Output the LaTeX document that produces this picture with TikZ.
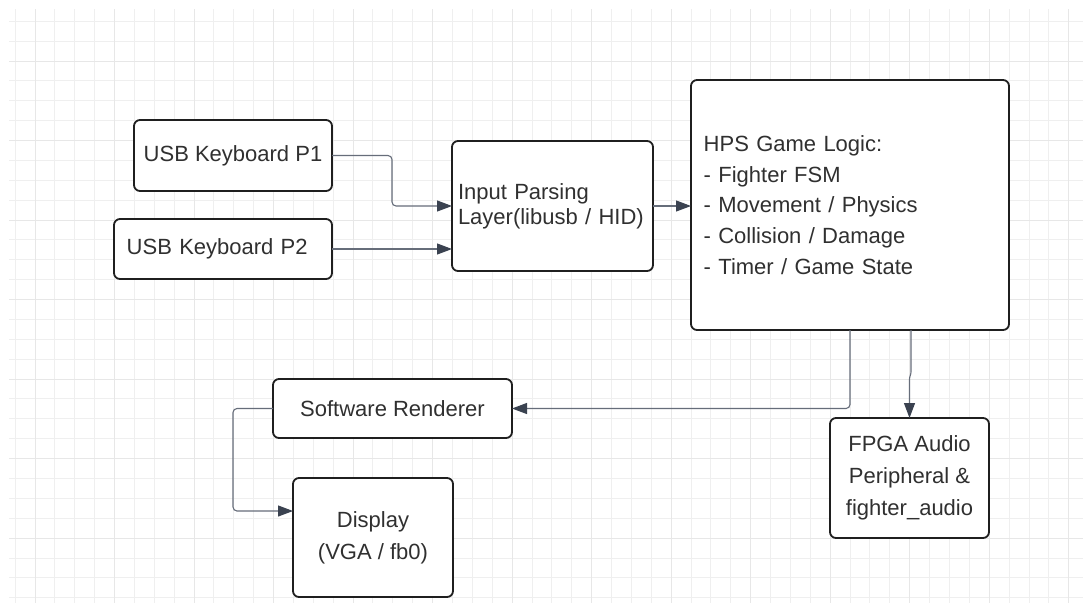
\documentclass[tikz,border=0pt]{standalone}
\usepackage{fontspec}
\setmainfont{Liberation Sans}
\usetikzlibrary{arrows.meta,calc}

\definecolor{gridminor}{HTML}{EFEFEF}
\definecolor{gridmajor}{HTML}{E7E7E7}
\definecolor{boxline}{HTML}{1F1F1F}
\definecolor{boxtext}{HTML}{303030}
\definecolor{wire}{HTML}{666D7A}
\definecolor{tipcol}{HTML}{3A4250}

\begin{document}
\begin{tikzpicture}[x=1pt,y=-1pt,
  minorline/.style={draw=gridminor, line width=1pt},
  majorline/.style={draw=gridmajor, line width=1pt},
  box/.style={draw=boxline, line width=1.8pt, rounded corners=6pt, fill=white,
    text=boxtext, font=\fontsize{22}{31}\selectfont, inner sep=0pt, outer sep=0pt},
  wirestyle/.style={draw=wire, line width=1.1pt, rounded corners=4pt,
    -{Triangle[length=15pt,width=11pt,color=tipcol]}}
]
% canvas
\fill[white] (0,0) rectangle (1083,603);
\useasboundingbox (0,0) rectangle (1083,603);

% background grid
\foreach \k in {-1,...,52} \draw[minorline] ({35+19.88*\k},9) -- ({35+19.88*\k},603);
\foreach \k in {-2,...,27} \draw[minorline] (9,{61+19.88*\k}) -- (1083,{61+19.88*\k});
\foreach \k in {0,4,...,52} \draw[majorline] ({35+19.88*\k},9) -- ({35+19.88*\k},603);
\foreach \k in {0,4,...,24} \draw[majorline] (9,{61+19.88*\k}) -- (1083,{61+19.88*\k});

% blocks
\node[box, minimum width=198pt, minimum height=71pt] (p1) at (233,155.5) {USB Keyboard P1};
\node[box, minimum width=218pt, minimum height=60pt, inner xsep=12.7pt,
  text width=192.6pt, align=left] (p2) at (223,249) {USB Keyboard P2};
\node[box, minimum width=201pt, minimum height=130pt, inner xsep=6pt,
  text width=189pt, align=left, font=\fontsize{22}{25}\selectfont] (inp) at (552.5,206)
  {Input Parsing\\Layer(libusb / HID)};
\node[box, minimum width=318pt, minimum height=250pt, inner xsep=12.7pt,
  text width=292.6pt, align=left, font=\fontsize{22}{30.6}\selectfont] (hps) at (850,205)
  {HPS Game Logic:\\- Fighter FSM\\- Movement / Physics\\- Collision / Damage\\- Timer / Game State};
\node[box, minimum width=239pt, minimum height=59pt] (sr) at (392.5,408.5) {Software Renderer};
\node[box, minimum width=160pt, minimum height=119pt, align=center,
  font=\fontsize{22}{31.7}\selectfont] (disp) at (373,537.5) {Display\\(VGA / fb0)};
\node[box, minimum width=159pt, minimum height=120pt, align=center,
  font=\fontsize{22}{32}\selectfont] (fpga) at (909.5,478) {FPGA Audio\\Peripheral \&\\fighter\_audio};

% connectors
\draw[wirestyle] (p1.east) -- ++(60,0) |- (inp.west);
\draw[wirestyle] (p2.east) -- (p2.east -| inp.west);
\draw[wirestyle] (inp.east) -- (inp.east -| hps.west);
\draw[wirestyle] (hps.south) |- (sr.east);
\draw[wirestyle] (sr.west) -- ++(-40,0) |- ($(disp.west)+(0,-26.5)$);
\draw[wirestyle, rounded corners=1pt] ([xshift=1.5pt]fpga.north |- hps.south) -- ++(0,43) -- ++(-1.5,5) -- (fpga.north);
\end{tikzpicture}
\end{document}
